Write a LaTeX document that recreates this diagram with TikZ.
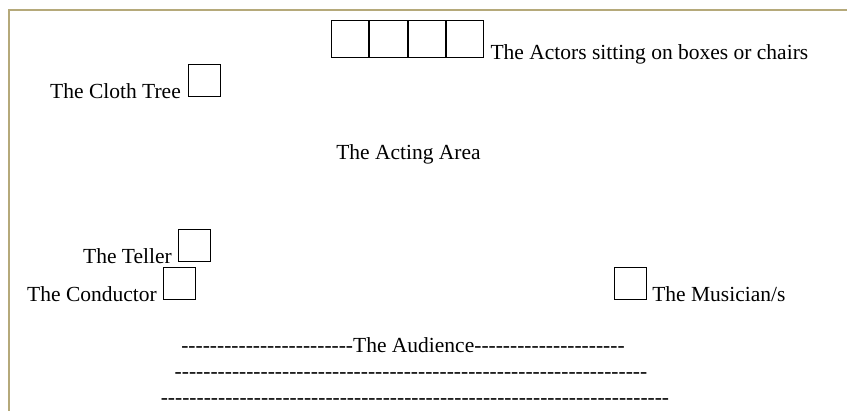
\documentclass[tikz,border=0pt]{standalone}
\usepackage{fontspec}
\setmainfont{Liberation Serif}
\definecolor{frame}{RGB}{181,169,122}
\newcommand\hyphs[1]{\foreach\i in {1,...,#1}{\hbox{-}}}
\begin{document}
\begin{tikzpicture}[x=1pt,y=-1pt,
  lbl/.style={inner sep=0pt,font=\fontsize{21.5}{26}\selectfont},
  seat/.style={draw=black,line width=1.1pt,minimum width=32pt,minimum height=32pt,inner sep=0pt},
  chair/.style={draw=black,line width=1.1pt,minimum width=37.25pt,minimum height=37pt,inner sep=0pt}]
\useasboundingbox (0,0) rectangle (847,411);
% frame
\draw[frame,line width=2pt] (8.5,411) -- (8.5,10) -- (847,10);
% actors' seats
\node[chair,anchor=north west] (c1) at (331,20) {};
\node[chair,anchor=north west] (c2) at (c1.north east) {};
\node[chair,anchor=north west] (c3) at (c2.north east) {};
\node[chair,anchor=north west] (c4) at (c3.north east) {};
\node[lbl,anchor=base west] (actors) at ([xshift=6pt,yshift=-1pt]c4.south east) {The Actors sitting on boxes or chairs};
% cloth tree
\node[seat,anchor=north west] (tree) at (188,64) {};
\node[lbl,anchor=base east] (treel) at ([xshift=-7pt,yshift=-1pt]tree.south west) {The Cloth Tree};
% acting area
\node[lbl,anchor=base] (area) at (408.5,160) {The Acting Area};
% teller
\node[seat,anchor=north west] (teller) at (178,229) {};
\node[lbl,anchor=base east] (tellerl) at ([xshift=-6pt,yshift=-1pt]teller.south west) {The Teller};
% conductor
\node[seat,anchor=north west] (cond) at (163,267) {};
\node[lbl,anchor=base east] (condl) at ([xshift=-6pt,yshift=-1pt]cond.south west) {The Conductor};
% musicians
\node[seat,anchor=north west] (mus) at (614,267) {};
\node[lbl,anchor=base west] (musl) at ([xshift=5pt,yshift=-1pt]mus.south east) {The Musician/s};
% audience
\node[lbl,anchor=base] (aud1) at (403,353) {\hyphs{24}The Audience\hyphs{21}};
\node[lbl,anchor=base] (aud2) at (411,379) {\hyphs{66}};
\node[lbl,anchor=base] (aud3) at (415,405) {\hyphs{71}};
\end{tikzpicture}
\end{document}
